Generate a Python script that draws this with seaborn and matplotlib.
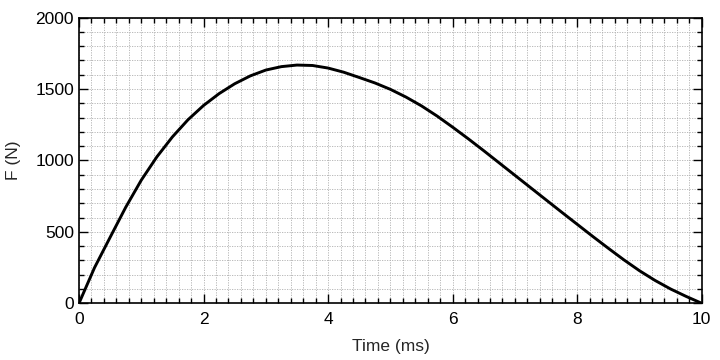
import numpy as np
import pandas as pd
import seaborn as sns
import matplotlib.pyplot as plt
from matplotlib.ticker import MultipleLocator

# values (every 0.25 ms)
time_ms = [0, 0.25, 0.5, 0.75, 1, 1.25, 1.5, 1.75, 2, 2.25, 2.5, 2.75, 3, 3.25, 3.5, 3.75,
           4, 4.25, 4.5, 4.75, 5, 5.25, 5.5, 5.75, 6, 6.25, 6.5, 6.75, 7, 7.25, 7.5, 7.75,
           8, 8.25, 8.5, 8.75, 9, 9.25, 9.5, 9.75, 10]
force_n = [0, 250, 462, 672, 862, 1025, 1165, 1285, 1385, 1468, 1537, 1592, 1633, 1657, 1668, 1665,
           1647, 1618, 1581, 1543, 1498, 1444, 1382, 1311, 1233, 1152, 1068, 982, 896, 810, 724, 638,
           553, 468, 385, 304, 228, 160, 100, 48, 0]

df = pd.DataFrame({'Time (ms)': time_ms, 'F (N)': force_n})

sns.set_style('ticks')
plt.rcParams['font.family'] = ['Liberation Sans', 'DejaVu Sans']

fig = plt.figure(figsize=(7.2, 3.6), dpi=100)
ax = fig.add_axes([0.1097, 0.1575, 0.865, 0.7935])

ax.xaxis.set_major_locator(MultipleLocator(2))
ax.xaxis.set_minor_locator(MultipleLocator(0.2))
ax.yaxis.set_major_locator(MultipleLocator(500))
ax.yaxis.set_minor_locator(MultipleLocator(100))
ax.grid(which='both', color='#b0b0b0', linestyle=(0, (1.5, 1.5)), linewidth=0.6)
ax.set_axisbelow(True)

sns.lineplot(data=df, x='Time (ms)', y='F (N)', color='black', linewidth=2.1, ax=ax)

ax.set_xlim(0, 10)
ax.set_ylim(0, 2000)
ax.tick_params(which='both', direction='in', top=True, right=True, labelsize=12.5, colors='black')
ax.tick_params(axis='x', which='major', pad=6)
ax.tick_params(which='major', length=6.5, width=1)
ax.tick_params(which='minor', length=3.5, width=1)
for s in ax.spines.values():
    s.set_linewidth(1.2)
    s.set_color('black')
ax.set_xlabel('Time (ms)', fontsize=12.5, labelpad=9)
ax.set_ylabel('F (N)', fontsize=12.5, labelpad=10)

fig.savefig('out.png', dpi=100)
